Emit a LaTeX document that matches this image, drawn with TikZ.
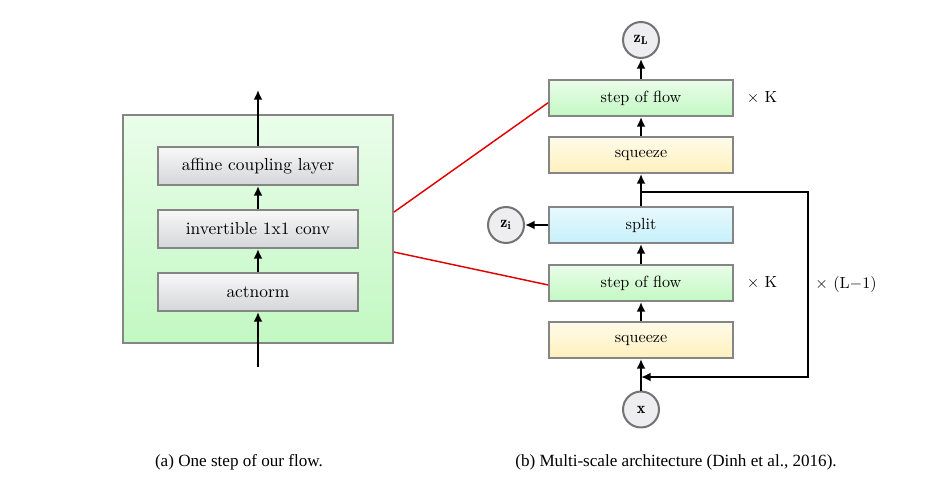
\documentclass[tikz,border=0pt]{standalone}
\usepackage{amsmath}
\usepackage{fontspec}
\usepackage{tikz}
\usetikzlibrary{arrows.meta}
\newfontfamily\capfont{Liberation Serif}
\definecolor{layertop}{HTML}{F8F8F8}
\definecolor{layerbot}{HTML}{D5D6DA}
\definecolor{steptop}{HTML}{EAFDEA}
\definecolor{stepbot}{HTML}{C2F8C2}
\definecolor{sqtop}{HTML}{FFFBEA}
\definecolor{sqbot}{HTML}{FFF0BC}
\definecolor{splittop}{HTML}{E8F9FD}
\definecolor{splitbot}{HTML}{C6F0FB}
\definecolor{zfill}{HTML}{EEEEF1}
\definecolor{linkred}{HTML}{E00000}

\begin{document}
\begin{tikzpicture}[x=0.62pt,y=-0.62pt,
    box/.style={draw=black!48, line width=1.25pt, inner sep=0pt, minimum width=114.08pt, minimum height=22.32pt},
    layer/.style={box, minimum width=124pt, minimum height=23.56pt, top color=layertop, bottom color=layerbot, font=\fontsize{10.8}{13}\selectfont},
    flow/.style={box, top color=steptop, bottom color=stepbot},
    sq/.style={box, top color=sqtop, bottom color=sqbot},
    splitbox/.style={box, top color=splittop, bottom color=splitbot},
    zcirc/.style={circle, draw=black!55, fill=zfill, line width=1.25pt, inner sep=0pt, minimum size=22.3pt},
    arr/.style={-{Latex[length=6pt,width=5.6pt]}, line width=1.25pt},
    link/.style={linkred, line width=0.9pt},
    caption/.style={font=\fontsize{10.6}{12}\capfont}]
            \useasboundingbox (0,0) rectangle (929,489);
            \node[box, minimum width=167.4pt, minimum height=141.36pt, top color=steptop, bottom color=stepbot] (S) at (258,229) {};
            \node[layer] (AC) at (258,166) {affine coupling layer};
            \node[layer] (IC) at (258,229) {invertible 1x1 conv};
            \node[layer] (AN) at (258,292) {actnorm};
            \coordinate (In) at (258,367);
            \coordinate (Out) at (258,90);
            \foreach \a/\b in {In/AN, AN/IC, IC/AC, AC/Out} {
                \draw[arr] (\a) -- (\b);
            }
            \node[zcirc] (ZL) at (641,40) {$\mathbf{z_L}$};
            \node[flow] (F2) at (641,98) {step of flow};
            \node[sq] (Q2) at (641,155) {squeeze};
            \node[splitbox] (SP) at (641,225) {split};
            \node[flow] (F1) at (641,283) {step of flow};
            \node[sq] (Q1) at (641,340) {squeeze};
            \node[zcirc] (X) at (641,409.5) {$\mathbf{x}$};
            \node[zcirc] (ZI) at (506,225) {$\mathbf{z_i}$};
            \foreach \a/\b in {X/Q1, Q1/F1, F1/SP, SP/Q2, Q2/F2, F2/ZL, SP/ZI} {
                \draw[arr] (\a) -- (\b);
            }
            \coordinate (B1) at (641,192);
            \coordinate (B2) at (641,377);
            \draw[arr] (B1) -- (808,192) -- (808,377) -- (B2);
            \node (K2) at (762,98) {$\times$ K};
            \node (K1) at (762,283) {$\times$ K};
            \node (L) at (846,284) {$\times$ (L$-$1)};
            \draw[link] ([yshift=10.5pt]S.east) -- ([yshift=-3pt]F2.west);
            \draw[link] ([yshift=-14.3pt]S.east) -- ([yshift=-1.2pt]F1.west);
            \node[caption] (CA) at (239,462) {(a) One step of our flow.};
            \node[caption] (CB) at (676,462) {(b) Multi-scale architecture (Dinh et al., 2016).};
        \end{tikzpicture}
\end{document}
